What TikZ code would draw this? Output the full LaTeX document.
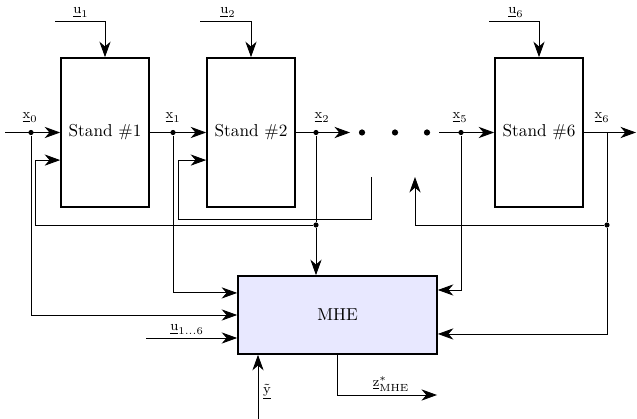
\documentclass[tikz,border=0pt]{standalone}
\usepackage{amsmath}
\usepackage{tikz}
\usetikzlibrary{arrows.meta,calc}

\begin{document}
\begin{tikzpicture}[x=0.58pt,y=-0.58pt,>={Stealth[length=9pt,width=6.5pt,inset=2.8pt]},
    line width=0.5pt,
    stand/.style={draw, line width=1pt, minimum width=51pt, minimum height=86.4pt, inner sep=0pt},
    estim/.style={draw, line width=1pt, fill=blue!9, minimum width=115.4pt, minimum height=45.2pt, inner sep=0pt},
    lab/.style={font=\footnotesize, inner sep=0pt},
    junc/.style={circle, fill, inner sep=0pt, minimum size=3pt}]
        \useasboundingbox (0,0) rectangle (637,419);
        % rolling stands
        \node[stand] (stand1) at (105,132.5) {Stand \#1};
        \node[stand] (stand2) at (251,132.5) {Stand \#2};
        \node[stand] (stand6) at (539,132.5) {Stand \#6};
        \node[estim] (mhe) at (337.5,315) {MHE};
        % junctions
        \node[junc] (d0) at (31,132.5) {};
        \node[junc] (d1) at (173,132.5) {};
        \node[junc] (d2) at (316,132.5) {};
        \node[junc] (d5) at (461,132.5) {};
        \node[junc] (b2) at (316,225) {};
        \node[junc] (b6) at (607,225) {};
        \coordinate (in0) at (5,132.5);
        \coordinate (out6) at (636,132.5);
        \coordinate (x2end) at (350,132.5);
        \coordinate (x5start) at (439,132.5);
        \coordinate (open2) at (371,177);
        \coordinate (fb6) at (415,177);
        \coordinate (u1) at (55,21);
        \coordinate (u2) at (200,21);
        \coordinate (u6) at (489,21);
        \coordinate (u16) at (146,338);
        \coordinate (ymeas) at (258,419);
        \coordinate (zout) at (437,395);
        \foreach \xx in {362,395,427} \fill (\xx,132.5) circle (1.8pt);
        % main line
        \draw[->] (in0) -- (stand1.west);
        \draw[->] (stand1.east) -- (stand2.west);
        \draw[->] (stand2.east) -- (x2end);
        \draw[->] (x5start) -- (stand6.west);
        \draw[->] (stand6.east) -- (out6);
        % inputs
        \draw[->] (u1) -| (stand1.north);
        \draw[->] (u2) -| (stand2.north);
        \draw[->] (u6) -| (stand6.north);
        % feedback
        \draw[->] (b2) -| ([xshift=-14.5pt,yshift=-16pt]stand1.west) -- ([yshift=-16pt]stand1.west);
        \draw[->] (open2) -- ++(0,42) -| ([xshift=-16.2pt,yshift=-16pt]stand2.west) -- ([yshift=-16pt]stand2.west);
        \draw (d2) -- (b2);
        \draw (stand6.east -| b6) -- (b6);
        \draw[->] (b6) -| (fb6);
        % to estimator
        \draw[->] (d0) |- (mhe.west);
        \draw[->] (d1) |- ([yshift=12.8pt]mhe.west);
        \draw[->] (u16) -- (u16 -| mhe.west);
        \draw[->] (b2) -- (b2 |- mhe.north);
        \draw[->] (d5) |- ([yshift=14.5pt]mhe.east);
        \draw[->] (b6) |- ([yshift=-11pt]mhe.east);
        \draw[->] (ymeas) -- (ymeas |- mhe.south);
        \draw[->] (mhe.south) |- (zout);
        % labels
        \node[lab] (lx0) at (30,118) {$\underline{\mathrm{x}}_0$};
        \node[lab] (lx1) at (173,118) {$\underline{\mathrm{x}}_1$};
        \node[lab] (lx2) at (322,118) {$\underline{\mathrm{x}}_2$};
        \node[lab] (lx5) at (460,118) {$\underline{\mathrm{x}}_5$};
        \node[lab] (lx6) at (602,118) {$\underline{\mathrm{x}}_6$};
        \node[lab] (lu1) at (81,13) {$\underline{\mathrm{u}}_1$};
        \node[lab] (lu2) at (228,13) {$\underline{\mathrm{u}}_2$};
        \node[lab] (lu6) at (516,13) {$\underline{\mathrm{u}}_6$};
        \node[lab] (lu16) at (187,330) {$\underline{\mathrm{u}}_{1\ldots6}$};
        \node[lab] (ly) at (267,392) {$\underline{\tilde{\mathrm{y}}}$};
        \node[lab] (lz) at (391,384) {$\underline{\mathrm{z}}^*_{\mathrm{MHE}}$};
    \end{tikzpicture}
\end{document}
